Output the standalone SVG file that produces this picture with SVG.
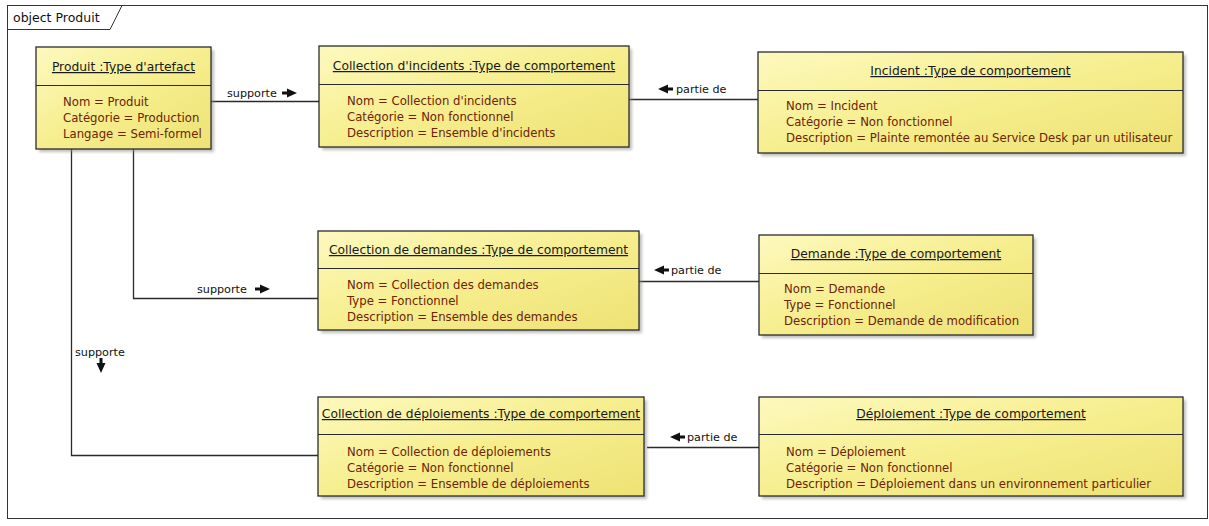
<svg xmlns="http://www.w3.org/2000/svg" width="1209" height="526" viewBox="0 0 1209 526">
  <defs>
    <linearGradient id="boxFill" x1="0" y1="0" x2="1" y2="1">
      <stop offset="0" stop-color="#FDF9BE"/>
      <stop offset="0.5" stop-color="#F6EE8E"/>
      <stop offset="1" stop-color="#EEE274"/>
    </linearGradient>
    <filter id="shadow" x="-5%" y="-10%" width="115%" height="130%">
      <feGaussianBlur stdDeviation="1.6"/>
    </filter>
    <!-- association name direction markers -->
    <path id="dirRight" d="M-4,-1.5 H1 V-4.5 L11,0 L1,4.5 V1.5 H-4 Z"/>
    <path id="dirLeft" d="M4,-1.5 H-1 V-4.5 L-11,0 L-1,4.5 V1.5 H4 Z"/>
    <path id="dirDown" d="M-1.5,-4 V1 H-4.5 L0,11 L4.5,1 H1.5 V-4 Z"/>
  </defs>
  <style>
    .frame { fill: #ffffff; stroke: #333333; stroke-width: 1; }
    .tab { fill: none; stroke: #333333; stroke-width: 1; }
    .frameTitle { font-family: "DejaVu Sans", "Liberation Sans", sans-serif; font-size: 12.5px; fill: #111111; }
    .shade { fill: #8a8a8a; opacity: 0.55; filter: url(#shadow); }
    .box { fill: url(#boxFill); stroke: #2b2b2b; stroke-width: 1.3; }
    .sep { stroke: #2b2b2b; stroke-width: 1.2; }
    .title { font-family: "DejaVu Sans", "Liberation Sans", sans-serif; font-size: 12.3px; fill: #1a1a1a; text-anchor: middle; text-decoration: underline; }
    .attr { font-family: "DejaVu Sans", "Liberation Sans", sans-serif; font-size: 11.7px; fill: #6e2208; }
    .link { fill: none; stroke: #2b2b2b; stroke-width: 1.3; }
    .label { font-family: "DejaVu Sans", "Liberation Sans", sans-serif; font-size: 11.2px; fill: #111111; }
    .dir { fill: #111111; }
  </style>

  <!-- diagram frame -->
  <rect class="frame" x="7.5" y="5.5" width="1200" height="513"/>
  <path class="tab" d="M7.5,29.5 H110 L122,5.5"/>
  <text class="frameTitle" x="13" y="22">object Produit</text>

  <!-- connectors -->
  <g id="connectors">
    <line class="link" x1="211" y1="101.5" x2="319" y2="101.5"/>
    <text class="label" x="227" y="97">supporte</text>
    <use href="#dirRight" class="dir" x="286" y="93"/>

    <line class="link" x1="629" y1="99.5" x2="758" y2="99.5"/>
    <use href="#dirLeft" class="dir" x="669" y="89"/>
    <text class="label" x="676" y="93">partie de</text>

    <path class="link" d="M133.5,149 V298.5 H318"/>
    <text class="label" x="197" y="293">supporte</text>
    <use href="#dirRight" class="dir" x="259" y="289"/>

    <line class="link" x1="639" y1="281.5" x2="759" y2="281.5"/>
    <use href="#dirLeft" class="dir" x="665" y="270"/>
    <text class="label" x="671" y="274">partie de</text>

    <path class="link" d="M71.5,149 V455.5 H318"/>
    <text class="label" x="75" y="356">supporte</text>
    <use href="#dirDown" class="dir" x="101" y="362"/>

    <line class="link" x1="647" y1="447.5" x2="759" y2="447.5"/>
    <use href="#dirLeft" class="dir" x="681" y="437"/>
    <text class="label" x="687" y="441">partie de</text>
  </g>

  <!-- Produit -->
  <g id="produit">
    <rect class="shade" x="39" y="50" width="175" height="102"/>
    <rect class="box" x="36" y="47" width="175" height="102"/>
    <line class="sep" x1="36" y1="85.5" x2="211" y2="85.5"/>
    <text class="title" x="123.5" y="71">Produit :Type d'artefact</text>
    <text class="attr" x="63" y="106">Nom = Produit</text>
    <text class="attr" x="63" y="122">Catégorie = Production</text>
    <text class="attr" x="63" y="138">Langage = Semi-formel</text>
  </g>

  <!-- Collection d'incidents -->
  <g id="collection-incidents">
    <rect class="shade" x="322" y="49" width="310" height="101"/>
    <rect class="box" x="319" y="46" width="310" height="101"/>
    <line class="sep" x1="319" y1="84.5" x2="629" y2="84.5"/>
    <text class="title" x="474" y="70">Collection d'incidents :Type de comportement</text>
    <text class="attr" x="347" y="105">Nom = Collection d'incidents</text>
    <text class="attr" x="347" y="121">Catégorie = Non fonctionnel</text>
    <text class="attr" x="347" y="137">Description = Ensemble d'incidents</text>
  </g>

  <!-- Incident -->
  <g id="incident">
    <rect class="shade" x="761" y="55" width="425" height="101"/>
    <rect class="box" x="758" y="52" width="425" height="101"/>
    <line class="sep" x1="758" y1="90.5" x2="1183" y2="90.5"/>
    <text class="title" x="970.5" y="75">Incident :Type de comportement</text>
    <text class="attr" x="786" y="110">Nom = Incident</text>
    <text class="attr" x="786" y="126">Catégorie = Non fonctionnel</text>
    <text class="attr" x="786" y="142">Description = Plainte remontée au Service Desk par un utilisateur</text>
  </g>

  <!-- Collection de demandes -->
  <g id="collection-demandes">
    <rect class="shade" x="321" y="234" width="321" height="99"/>
    <rect class="box" x="318" y="231" width="321" height="99"/>
    <line class="sep" x1="318" y1="268.5" x2="639" y2="268.5"/>
    <text class="title" x="478.5" y="254">Collection de demandes :Type de comportement</text>
    <text class="attr" x="347" y="289">Nom = Collection des demandes</text>
    <text class="attr" x="347" y="305">Type = Fonctionnel</text>
    <text class="attr" x="347" y="321">Description = Ensemble des demandes</text>
  </g>

  <!-- Demande -->
  <g id="demande">
    <rect class="shade" x="762" y="238" width="274" height="100"/>
    <rect class="box" x="759" y="235" width="274" height="100"/>
    <line class="sep" x1="759" y1="273.5" x2="1033" y2="273.5"/>
    <text class="title" x="896" y="258">Demande :Type de comportement</text>
    <text class="attr" x="784" y="293">Nom = Demande</text>
    <text class="attr" x="784" y="309">Type = Fonctionnel</text>
    <text class="attr" x="784" y="325">Description = Demande de modification</text>
  </g>

  <!-- Collection de déploiements -->
  <g id="collection-deploiements">
    <rect class="shade" x="321" y="400" width="326" height="99"/>
    <rect class="box" x="318" y="397" width="326" height="99"/>
    <line class="sep" x1="318" y1="434.5" x2="644" y2="434.5"/>
    <text class="title" x="481" y="418">Collection de déploiements :Type de comportement</text>
    <text class="attr" x="347" y="456">Nom = Collection de déploiements</text>
    <text class="attr" x="347" y="472">Catégorie = Non fonctionnel</text>
    <text class="attr" x="347" y="488">Description = Ensemble de déploiements</text>
  </g>

  <!-- Déploiement -->
  <g id="deploiement">
    <rect class="shade" x="762" y="400" width="424" height="99"/>
    <rect class="box" x="759" y="397" width="424" height="99"/>
    <line class="sep" x1="759" y1="434.5" x2="1183" y2="434.5"/>
    <text class="title" x="971" y="418">Déploiement :Type de comportement</text>
    <text class="attr" x="786" y="456">Nom = Déploiement</text>
    <text class="attr" x="786" y="472">Catégorie = Non fonctionnel</text>
    <text class="attr" x="786" y="488">Description = Déploiement dans un environnement particulier</text>
  </g>
</svg>
